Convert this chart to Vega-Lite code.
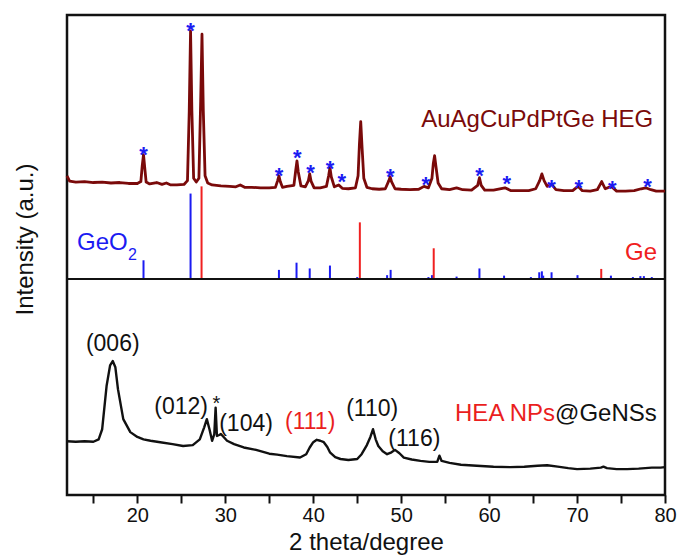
{
 "$schema": "https://vega.github.io/schema/vega-lite/v6.json",
 "width": 598, "height": 480,
 "autosize": {"type": "none"},
 "padding": {"left": 67, "top": 15, "right": 13, "bottom": 61},
 "background": "white",
 "config": {"view": {"stroke": "#111", "strokeWidth": 2.5}, "font": "Liberation Sans"},
 "datasets": {
  "heg": [
   {"x":12.0,"y":66.5},{"x":12.3,"y":65.4},{"x":13,"y":65.2},{"x":14,"y":65.3},{"x":15,"y":65.1},{"x":16,"y":65.2},{"x":17,"y":65.0},{"x":18,"y":65.1},{"x":19,"y":64.9},{"x":20.0,"y":64.9},
   {"x":20.4,"y":65.3},{"x":20.55,"y":68.5},{"x":20.7,"y":70.9},{"x":20.85,"y":68.0},{"x":21.0,"y":65.2},{"x":21.4,"y":64.8},{"x":22.2,"y":65.1},{"x":22.8,"y":64.7},{"x":23.3,"y":65.0},{"x":23.8,"y":64.6},
   {"x":24.5,"y":64.6},{"x":25.3,"y":64.7},{"x":25.7,"y":65.5},{"x":25.9,"y":80},{"x":26.05,"y":96.7},{"x":26.2,"y":80},{"x":26.4,"y":66},{"x":26.7,"y":65.2},{"x":27.0,"y":66},{"x":27.2,"y":82},
   {"x":27.35,"y":96.0},{"x":27.5,"y":80},{"x":27.7,"y":66.5},{"x":28.0,"y":65.0},{"x":28.5,"y":64.6},{"x":29.5,"y":64.4},{"x":30.5,"y":64.3},{"x":31.2,"y":64.2},{"x":31.7,"y":64.6},{"x":32.2,"y":64.1},
   {"x":33.0,"y":64.1},{"x":34.0,"y":64.0},{"x":35.0,"y":64.0},{"x":35.7,"y":64.1},{"x":35.95,"y":65.5},{"x":36.1,"y":66.5},{"x":36.25,"y":65.3},{"x":36.5,"y":64.1},{"x":37.0,"y":64.3},{"x":37.8,"y":64.5},
   {"x":38.0,"y":67.5},{"x":38.15,"y":69.6},{"x":38.3,"y":67.3},{"x":38.6,"y":64.4},{"x":39.1,"y":64.2},{"x":39.45,"y":65.5},{"x":39.6,"y":66.9},{"x":39.75,"y":65.4},{"x":40.1,"y":64.0},{"x":40.8,"y":64.0},
   {"x":41.5,"y":64.3},{"x":41.75,"y":66.5},{"x":41.9,"y":68.2},{"x":42.05,"y":66.3},{"x":42.4,"y":64.2},{"x":42.9,"y":64.6},{"x":43.3,"y":63.9},{"x":44.0,"y":63.8},{"x":44.8,"y":64.0},{"x":45.1,"y":66.5},
   {"x":45.25,"y":73},{"x":45.4,"y":77.8},{"x":45.55,"y":72.5},{"x":45.75,"y":66},{"x":46.1,"y":64.1},{"x":46.7,"y":63.8},{"x":47.5,"y":63.7},{"x":48.2,"y":63.8},{"x":48.6,"y":65.5},{"x":48.75,"y":66.3},
   {"x":48.9,"y":65.3},{"x":49.3,"y":63.8},{"x":50.0,"y":63.7},{"x":51.0,"y":63.6},{"x":52.0,"y":63.7},{"x":52.6,"y":64.3},{"x":53.1,"y":64.0},{"x":53.5,"y":66},{"x":53.65,"y":69},{"x":53.8,"y":70.7},
   {"x":53.95,"y":68.5},{"x":54.2,"y":65},{"x":54.6,"y":63.8},{"x":55.5,"y":63.6},{"x":56.3,"y":64.0},{"x":57.0,"y":63.6},{"x":58.0,"y":63.5},{"x":58.7,"y":64.5},{"x":58.9,"y":66.1},{"x":59.1,"y":64.5},
   {"x":59.5,"y":63.5},{"x":60.5,"y":63.5},{"x":61.8,"y":64.0},{"x":62.5,"y":63.4},{"x":63.5,"y":63.4},{"x":64.5,"y":63.4},{"x":65.3,"y":63.8},{"x":65.75,"y":65.5},{"x":66.0,"y":66.9},{"x":66.25,"y":65.5},
   {"x":66.6,"y":64.3},{"x":67.1,"y":64.7},{"x":67.6,"y":63.6},{"x":68.5,"y":63.4},{"x":69.5,"y":63.4},{"x":70.1,"y":64.3},{"x":70.6,"y":63.4},{"x":71.5,"y":63.3},{"x":72.3,"y":63.6},{"x":72.8,"y":65.3},
   {"x":73.2,"y":63.8},{"x":73.9,"y":64.3},{"x":74.5,"y":63.3},{"x":75.5,"y":63.3},{"x":76.5,"y":63.4},{"x":77.3,"y":63.8},{"x":77.8,"y":64.0},{"x":78.4,"y":63.6},{"x":79.0,"y":63.3},{"x":80.0,"y":63.3}
  ],
  "nps": [
   {"x":12.0,"y":11.2},{"x":13,"y":11.1},{"x":14,"y":11.2},{"x":15.0,"y":11.1},{"x":15.6,"y":11.6},{"x":16.0,"y":13.7},{"x":16.5,"y":22.7},{"x":16.9,"y":27.0},{"x":17.2,"y":27.9},{"x":17.5,"y":26.6},
   {"x":17.8,"y":22.0},{"x":18.4,"y":15.8},{"x":19.2,"y":13.1},{"x":20.0,"y":12.1},{"x":20.7,"y":11.6},{"x":21.5,"y":11.3},{"x":22.6,"y":11.0},{"x":24.0,"y":10.6},{"x":25.2,"y":10.2},{"x":26.3,"y":10.4},
   {"x":27.1,"y":11.6},{"x":27.6,"y":14.1},{"x":27.9,"y":15.8},{"x":28.2,"y":13.7},{"x":28.5,"y":11.3},{"x":28.75,"y":12.7},{"x":28.9,"y":18.2},{"x":29.05,"y":12.3},{"x":29.3,"y":12.5},{"x":29.5,"y":12.7},
   {"x":30.2,"y":11.3},{"x":31.0,"y":10.6},{"x":32.1,"y":9.9},{"x":33.5,"y":9.4},{"x":35.0,"y":8.6},{"x":35.9,"y":8.4},{"x":37.0,"y":8.1},{"x":38.5,"y":7.8},{"x":39.2,"y":8.5},{"x":39.6,"y":9.9},
   {"x":40.0,"y":11.0},{"x":40.4,"y":11.5},{"x":40.8,"y":11.3},{"x":41.2,"y":11.0},{"x":41.6,"y":10.0},{"x":41.9,"y":8.9},{"x":42.5,"y":7.9},{"x":43.1,"y":7.5},{"x":44.0,"y":7.3},{"x":45.0,"y":7.5},
   {"x":45.5,"y":8.5},{"x":46.1,"y":10.4},{"x":46.5,"y":12.1},{"x":46.8,"y":13.7},{"x":47.1,"y":11.6},{"x":47.4,"y":10.2},{"x":47.9,"y":9.1},{"x":48.4,"y":8.5},{"x":48.9,"y":8.9},{"x":49.3,"y":9.4},
   {"x":49.8,"y":8.7},{"x":50.3,"y":7.8},{"x":51.2,"y":7.4},{"x":52.2,"y":7.1},{"x":53.2,"y":6.9},{"x":54.1,"y":6.9},{"x":54.35,"y":8.2},{"x":54.6,"y":7.1},{"x":55.5,"y":6.7},{"x":56.8,"y":6.3},
   {"x":58.6,"y":6.1},{"x":60.5,"y":5.9},{"x":62.4,"y":5.8},{"x":64.0,"y":5.9},{"x":65.5,"y":6.1},{"x":66.6,"y":6.2},{"x":67.8,"y":5.9},{"x":69.0,"y":5.6},{"x":70.0,"y":5.4},{"x":71.5,"y":5.5},
   {"x":72.7,"y":5.7},{"x":73.0,"y":5.9},{"x":73.4,"y":5.6},{"x":74.5,"y":5.4},{"x":75.7,"y":5.4},{"x":77.0,"y":5.5},{"x":78.5,"y":5.7},{"x":79.5,"y":5.7},{"x":80.0,"y":5.8}
  ],
  "sticks": [
   {"x":20.7,"y":48.9,"phase":"GeO2"},{"x":26.05,"y":62.8,"phase":"GeO2"},{"x":36.1,"y":46.9,"phase":"GeO2"},{"x":38.1,"y":48.4,"phase":"GeO2"},{"x":39.6,"y":47.2,"phase":"GeO2"},
   {"x":41.9,"y":47.8,"phase":"GeO2"},{"x":45.0,"y":45.4,"phase":"GeO2"},{"x":48.4,"y":45.8,"phase":"GeO2"},{"x":48.8,"y":46.9,"phase":"GeO2"},{"x":53.1,"y":45.4,"phase":"GeO2"},
   {"x":53.5,"y":45.8,"phase":"GeO2"},{"x":56.3,"y":45.5,"phase":"GeO2"},{"x":58.9,"y":47.2,"phase":"GeO2"},{"x":61.7,"y":45.7,"phase":"GeO2"},{"x":64.75,"y":45.4,"phase":"GeO2"},
   {"x":65.7,"y":46.4,"phase":"GeO2"},{"x":66.0,"y":46.6,"phase":"GeO2"},{"x":66.15,"y":45.7,"phase":"GeO2"},{"x":67.1,"y":46.4,"phase":"GeO2"},{"x":70.05,"y":45.8,"phase":"GeO2"},
   {"x":73.85,"y":45.7,"phase":"GeO2"},{"x":76.35,"y":45.4,"phase":"GeO2"},{"x":77.2,"y":45.6,"phase":"GeO2"},{"x":77.6,"y":45.6,"phase":"GeO2"},{"x":78.5,"y":45.4,"phase":"GeO2"},
   {"x":27.3,"y":64.3,"phase":"Ge"},{"x":45.3,"y":56.8,"phase":"Ge"},{"x":53.7,"y":51.4,"phase":"Ge"},{"x":72.75,"y":47.1,"phase":"Ge"}
  ],
  "stars": [
   {"x":20.7,"y":72.1},{"x":26.05,"y":97.9},{"x":36.1,"y":67.8},{"x":38.2,"y":71.5},{"x":39.7,"y":68.4},{"x":41.9,"y":69.2},{"x":43.25,"y":66.5},{"x":48.75,"y":67.4},
   {"x":52.8,"y":65.9},{"x":58.9,"y":67.8},{"x":62.0,"y":66.1},{"x":67.1,"y":65.3},{"x":70.2,"y":65.3},{"x":74.0,"y":65.1},{"x":78.0,"y":65.5}
  ],
  "labels": [
   {"x":17.2,"y":31.4,"text":"(006)","series":"GeNSs"},
   {"x":24.97,"y":18.3,"text":"(012)","series":"GeNSs"},
   {"x":32.36,"y":14.8,"text":"(104)","series":"GeNSs"},
   {"x":39.65,"y":15.2,"text":"(111)","series":"HEA"},
   {"x":46.7,"y":17.9,"text":"(110)","series":"GeNSs"},
   {"x":51.5,"y":11.6,"text":"(116)","series":"GeNSs"},
   {"x":29.0,"y":19.9,"text":"*","series":"GeNSs"},
   {"x":67.5,"y":16.8,"text":"HEA NPs","series":"HEA"},
   {"x":67.5,"y":16.8,"text":"@GeNSs","series":"GeNSs"},
   {"x":78.67,"y":78.2,"text":"AuAgCuPdPtGe HEG","series":"HEG"},
   {"x":13.14,"y":52.6,"text":"GeO","series":"GeO2"},
   {"x":18.95,"y":50.1,"text":"2","series":"GeO2"},
   {"x":79.1,"y":50.5,"text":"Ge","series":"Ge"}
  ]
 },
 "layer": [
  {
   "data": {"name": "sticks"},
   "mark": {"type": "rule", "strokeWidth": 2},
   "encoding": {
    "x": {"field": "x", "type": "quantitative", "scale": {"domain": [12, 80], "nice": false, "zero": false}},
    "y": {"field": "y", "type": "quantitative", "scale": {"domain": [0, 100], "nice": false}},
    "y2": {"datum": 45},
    "color": {"field": "phase", "type": "nominal", "scale": {"domain": ["HEG","GeO2","Ge","HEA","GeNSs"], "range": ["#7A0A0A","#1B1BF2","#F02020","#EA1E1E","#111111"]}, "legend": null}
   }
  },
  {
   "data": {"values": [{"level": 45}]},
   "mark": {"type": "rule", "color": "#111", "strokeWidth": 2.2},
   "encoding": {"y": {"field": "level", "type": "quantitative", "scale": {"domain": [0, 100], "nice": false}}}
  },
  {
   "data": {"name": "heg"},
   "mark": {"type": "line", "color": "#7A0A0A", "strokeWidth": 2.8, "strokeJoin": "round"},
   "encoding": {
    "x": {"field": "x", "type": "quantitative", "scale": {"domain": [12, 80], "nice": false, "zero": false},
      "axis": {"values": [15,20,25,30,35,40,45,50,55,60,65,70,75,80], "labelExpr": "datum.value % 10 === 0 ? datum.label : ''",
        "tickSize": 8, "tickWidth": 2, "tickColor": "#111", "domain": false, "grid": false, "labelFontSize": 20, "labelColor": "#111",
        "labelFlush": false, "labelOverlap": false, "labelPadding": 2, "labelFont": "Liberation Sans",
        "encode": {"ticks": {"update": {"y": {"value": 0}, "y2": {"signal": "datum.value % 10 === 0 ? -8 : -4"}}}},
        "title": "2 theta/degree", "titleFontSize": 24, "titleFontWeight": "normal", "titleColor": "#111", "titleFont": "Liberation Sans",
        "titleY": 54, "titleBaseline": "alphabetic"}},
    "y": {"field": "y", "type": "quantitative", "scale": {"domain": [0, 100], "nice": false},
      "axis": {"title": "Intensity (a.u.)", "labels": false, "ticks": false, "domain": false, "grid": false,
        "titleFontSize": 24, "titleFontWeight": "normal", "titleColor": "#111", "titleFont": "Liberation Sans",
        "titleX": -35, "titleY": 224, "titleBaseline": "alphabetic", "titleAlign": "center", "titleAngle": -90}}
   }
  },
  {
   "data": {"name": "nps"},
   "mark": {"type": "line", "color": "#111111", "strokeWidth": 2.4, "strokeJoin": "round"},
   "encoding": {
    "x": {"field": "x", "type": "quantitative", "scale": {"domain": [12, 80], "nice": false, "zero": false}},
    "y": {"field": "y", "type": "quantitative", "scale": {"domain": [0, 100], "nice": false}}
   }
  },
  {
   "data": {"name": "stars"},
   "mark": {"type": "text", "text": "*", "fontSize": 22, "fontWeight": "bold", "color": "#1B1BF2", "baseline": "middle", "dy": 6, "font": "Liberation Sans"},
   "encoding": {
    "x": {"field": "x", "type": "quantitative", "scale": {"domain": [12, 80], "nice": false, "zero": false}},
    "y": {"field": "y", "type": "quantitative", "scale": {"domain": [0, 100], "nice": false}}
   }
  },
  {
   "data": {"name": "labels"},
   "transform": [{"filter": {"field": "text", "oneOf": ["(006)","(012)","(104)","(111)","(110)","(116)"]}}],
   "mark": {"type": "text", "fontSize": 23, "baseline": "middle", "align": "center", "font": "Liberation Sans"},
   "encoding": {
    "x": {"field": "x", "type": "quantitative", "scale": {"domain": [12, 80], "nice": false, "zero": false}},
    "y": {"field": "y", "type": "quantitative", "scale": {"domain": [0, 100], "nice": false}},
    "text": {"field": "text"},
    "color": {"field": "series", "type": "nominal", "legend": null}
   }
  },
  {
   "data": {"name": "labels"},
   "transform": [{"filter": {"field": "text", "oneOf": ["*"]}}],
   "mark": {"type": "text", "fontSize": 20, "baseline": "middle", "align": "center", "dy": 5, "font": "Liberation Sans"},
   "encoding": {
    "x": {"field": "x", "type": "quantitative", "scale": {"domain": [12, 80], "nice": false, "zero": false}},
    "y": {"field": "y", "type": "quantitative", "scale": {"domain": [0, 100], "nice": false}},
    "text": {"field": "text"},
    "color": {"field": "series", "type": "nominal", "legend": null}
   }
  },
  {
   "data": {"name": "labels"},
   "transform": [{"filter": {"field": "text", "oneOf": ["HEA NPs","AuAgCuPdPtGe HEG","Ge"]}}],
   "mark": {"type": "text", "fontSize": 24, "baseline": "middle", "align": "right", "font": "Liberation Sans"},
   "encoding": {
    "x": {"field": "x", "type": "quantitative", "scale": {"domain": [12, 80], "nice": false, "zero": false}},
    "y": {"field": "y", "type": "quantitative", "scale": {"domain": [0, 100], "nice": false}},
    "text": {"field": "text"},
    "color": {"field": "series", "type": "nominal", "legend": null}
   }
  },
  {
   "data": {"name": "labels"},
   "transform": [{"filter": {"field": "text", "oneOf": ["@GeNSs","GeO"]}}],
   "mark": {"type": "text", "fontSize": 24, "baseline": "middle", "align": "left", "font": "Liberation Sans"},
   "encoding": {
    "x": {"field": "x", "type": "quantitative", "scale": {"domain": [12, 80], "nice": false, "zero": false}},
    "y": {"field": "y", "type": "quantitative", "scale": {"domain": [0, 100], "nice": false}},
    "text": {"field": "text"},
    "color": {"field": "series", "type": "nominal", "legend": null}
   }
  },
  {
   "data": {"name": "labels"},
   "transform": [{"filter": {"field": "text", "oneOf": ["2"]}}],
   "mark": {"type": "text", "fontSize": 16, "baseline": "middle", "align": "left", "font": "Liberation Sans"},
   "encoding": {
    "x": {"field": "x", "type": "quantitative", "scale": {"domain": [12, 80], "nice": false, "zero": false}},
    "y": {"field": "y", "type": "quantitative", "scale": {"domain": [0, 100], "nice": false}},
    "text": {"field": "text"},
    "color": {"field": "series", "type": "nominal", "legend": null}
   }
  }
 ]
}
